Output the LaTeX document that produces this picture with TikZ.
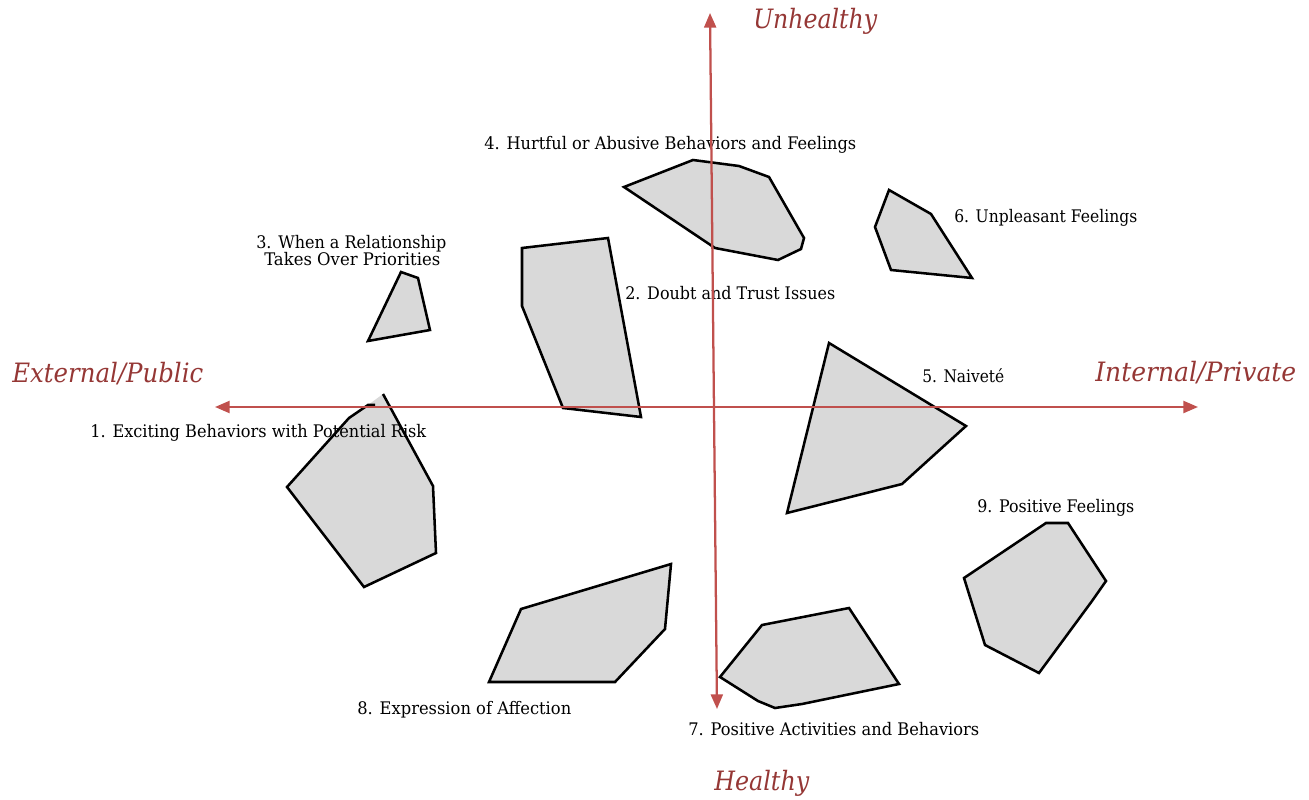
\documentclass[tikz,border=0pt]{standalone}
\usepackage{fontspec}
\setmainfont{DejaVu Serif}
\usetikzlibrary{arrows.meta}
\newlength\pxu \setlength\pxu{0.75pt}
\definecolor{axisred}{HTML}{C0504D}
\definecolor{labred}{HTML}{953735}
\definecolor{polygray}{HTML}{D9D9D9}
\newcommand\fitw[2]{\resizebox{#1\pxu}{\height}{#2}}
\begin{document}
\begin{tikzpicture}[x=0.75pt,y=-0.75pt,
  region/.style={draw=black, fill=polygray, line width=1.9pt},
  regionfill/.style={fill=polygray},
  regionedge/.style={draw=black, line width=1.9pt},
  axisline/.style={draw=axisred, line width=1.7pt, {Triangle[length=11pt,width=9pt]}-{Triangle[length=11pt,width=9pt]}},
  lbl/.style={inner sep=0pt, anchor=base west, font=\fontsize{13}{15}\selectfont, text=black},
  axlbl/.style={inner sep=0pt, anchor=base west, font=\fontsize{20}{24}\selectfont\itshape, text=labred}]
\useasboundingbox (0,0) rectangle (1309,799);

% regions
\fill[regionfill] (287,487) -- (349,418) -- (368,405) -- (383,394) -- (433,486) -- (436,553) -- (364,587) -- cycle; % 1
\draw[regionedge] (383,394) -- (433,486) -- (436,553) -- (364,587) -- (287,487) -- (349,418) -- (368,405) -- (375,405); % 1 (open edge)
\draw[region] (522,248) -- (608,238) -- (641,417) -- (563,408) -- (522,306) -- cycle; % 2
\draw[region] (401,272) -- (418,278) -- (430,330) -- (368,341) -- cycle; % 3
\draw[region] (624,187) -- (693,160) -- (739,166) -- (769,177) -- (804,238) -- (801,249) -- (778,260) -- (715,248) -- cycle; % 4
\draw[region] (829,343) -- (966,426) -- (902,484) -- (787,513) -- cycle; % 5
\draw[region] (889,190) -- (931,214) -- (972,278) -- (891,270) -- (875,227) -- cycle; % 6
\draw[region] (762,625) -- (849,608) -- (899,684) -- (802,704) -- (775,708) -- (758,701) -- (720,677) -- cycle; % 7
\draw[region] (521,609) -- (671,564) -- (665,629) -- (615,682) -- (489,682) -- cycle; % 8
\draw[region] (1046,523) -- (1068,523) -- (1106,581) -- (1092,601) -- (1039,673) -- (985,645) -- (964,578) -- cycle; % 9

% labels
\node[lbl] (l4) at (484,149) {\fitw{372}{4. Hurtful or Abusive Behaviors and Feelings}};
\node[lbl] (l3a) at (256,248) {\fitw{190}{3. When a Relationship}};
\node[lbl] (l3b) at (264,265) {\fitw{176}{Takes Over Priorities}};
\node[lbl] (l2) at (625,299) {\fitw{210}{2. Doubt and Trust Issues}};
\node[lbl] (l6) at (954,222) {\fitw{183}{6. Unpleasant Feelings}};
\node[lbl] (l5) at (922,382) {\fitw{82}{5. Naiveté}};
\node[lbl] (l1) at (90,437) {\fitw{336}{1. Exciting Behaviors with Potential Risk}};
\node[lbl] (l9) at (977,512) {\fitw{157}{9. Positive Feelings}};
\node[lbl] (l8) at (357,714) {\fitw{214}{8. Expression of Affection}};
\node[lbl] (l7) at (688,735) {\fitw{291}{7. Positive Activities and Behaviors}};

% axes
\coordinate (top) at (710,13);
\coordinate (bottom) at (717,709);
\coordinate (left) at (215,407);
\coordinate (right) at (1198,407);
\draw[axisline] (left) -- (right);
\draw[axisline] (top) -- (bottom);

\node[axlbl] (unh) at (753,29) {\fitw{124}{Unhealthy}};
\node[axlbl] (hea) at (714,790) {\fitw{95}{Healthy}};
\node[axlbl] (ext) at (12,382) {\fitw{191}{External/Public}};
\node[axlbl] (int) at (1095,381) {\fitw{201}{Internal/Private}};
\end{tikzpicture}
\end{document}
